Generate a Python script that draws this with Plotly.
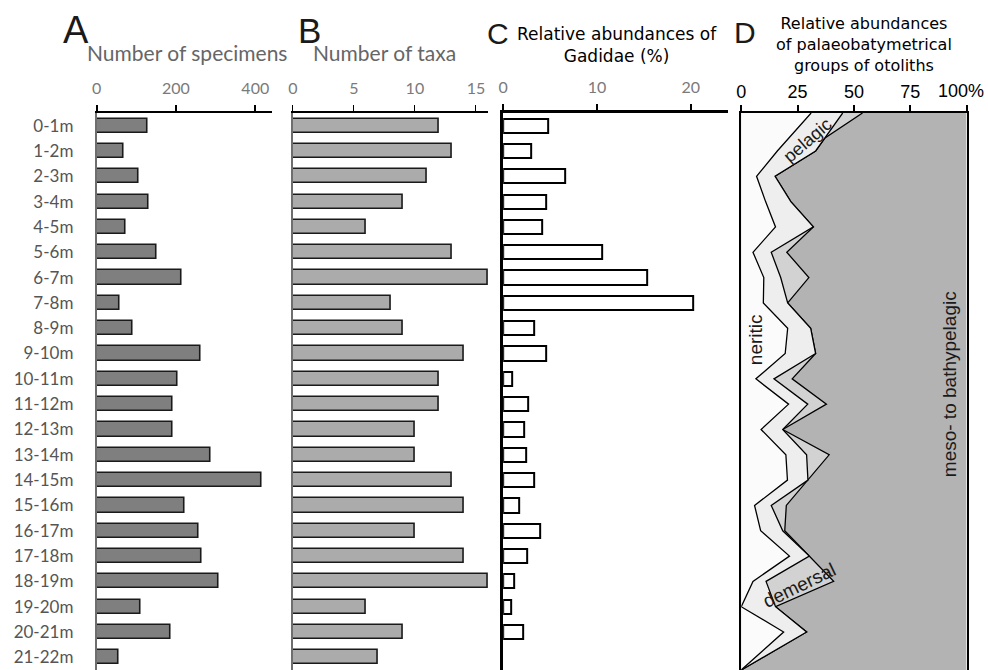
import plotly.graph_objects as go

# ---------------- data ----------------
depth_labels = ["0-1m", "1-2m", "2-3m", "3-4m", "4-5m", "5-6m", "6-7m", "7-8m", "8-9m",
                "9-10m", "10-11m", "11-12m", "12-13m", "13-14m", "14-15m", "15-16m",
                "16-17m", "17-18m", "18-19m", "19-20m", "20-21m", "21-22m"]
specimens = [129, 68, 106, 132, 74, 151, 215, 59, 90, 262, 204, 192, 191, 286, 417,
             221, 256, 265, 308, 112, 187, 55]
taxa = [12, 13, 11, 9, 6, 13, 16, 8, 9, 14, 12, 12, 10, 10, 13, 14, 10, 14, 16, 6, 9, 7]
gadidae_pct = [4.8, 3.0, 6.6, 4.6, 4.2, 10.6, 15.4, 20.3, 3.3, 4.6, 1.0, 2.7, 2.2, 2.5,
               3.3, 1.7, 3.9, 2.6, 1.2, 0.9, 2.1, 0.0]

# panel D: cumulative boundaries (%) along depth (m)
d_depth = [0, 1, 1.5, 2.5, 3.5, 4.5, 5.5, 6.5, 7.5, 8.5, 9.5, 10.5, 11.5, 12.5, 13.5,
           14.5, 15.5, 16.5, 17.5, 18.5, 19.5, 20.5, 22]
cum_neritic = [31, 21, 16, 6.8, 10.8, 15.2, 5.2, 10, 9.8, 20.6, 19.5, 6.5, 21, 8.8, 19.8,
               20.5, 5.9, 8.6, 21.4, 5.2, 0, 18.8, 0]
cum_pelagic = [45, 37, 33, 15, 22, 32, 13.3, 17.5, 20.6, 30.8, 33, 14.5, 29.5, 18.4, 29,
               29.6, 13.3, 18.4, 30.2, 11, 15.2, 29, 0]
cum_demersal = [53.8, 37, 33, 15, 22, 32, 20.2, 30, 20.6, 30.8, 33, 22.6, 37.8, 18.4, 39,
                29.6, 20, 19.3, 30.2, 41, 15.2, 29, 0]
cum_total = [100] * len(d_depth)

d_ticks = [0, 25, 50, 75, 100]
d_ticktext = ["0", "25", "50", "75", ""]

W, H = 988, 670


def px(x):
    return x / W


def py(y):
    return 1 - y / H


TOP = 113
YDOM = [0, py(TOP)]
GRAY_FONT = "Lato"
ARIAL = "Liberation Sans"
WIDE = "DejaVu Sans"

fig = go.Figure()

# ---------------- bars ----------------
fig.add_trace(go.Bar(x=specimens, y=depth_labels, orientation="h", width=0.56,
                     marker=dict(color="#7f7f7f", line=dict(color="#1a1a1a", width=1.6)),
                     xaxis="x", yaxis="y", showlegend=False))
fig.add_trace(go.Bar(x=taxa, y=depth_labels, orientation="h", width=0.56,
                     marker=dict(color="#ababab", line=dict(color="#1a1a1a", width=1.6)),
                     xaxis="x2", yaxis="y2", showlegend=False))
fig.add_trace(go.Bar(x=gadidae_pct, y=depth_labels, orientation="h", width=0.56,
                     marker=dict(color="white",
                                 line=dict(color="black",
                                           width=[2 if v > 0 else 0 for v in gadidae_pct])),
                     xaxis="x3", yaxis="y3", showlegend=False))

# ---------------- panel D areas ----------------
area_specs = [
    (cum_total, "#b3b3b3", 0),
    (cum_demersal, "#d2d2d2", 1.3),
    (cum_pelagic, "#eeeeee", 1.3),
    (cum_neritic, "#fbfbfb", 1.3),
]
for vals, col, lw in area_specs:
    fig.add_trace(go.Scatter(x=vals, y=d_depth, mode="lines", fill="tozerox",
                             fillcolor=col,
                             line=dict(color="black" if lw else col, width=lw if lw else 0.1),
                             xaxis="x4", yaxis="y4", showlegend=False, hoverinfo="skip"))

# ---------------- axes ----------------
common_x = dict(side="top", showline=True, linecolor="black", ticks="outside", ticklen=6,
                tickcolor="black", showgrid=False, zeroline=False, fixedrange=True,
                tickfont=dict(family=GRAY_FONT, size=16, color="#7a7a7a"),
                ticklabelstandoff=5)
cat_y = dict(domain=YDOM, range=[21.5, -0.5], showgrid=False, zeroline=False,
             showline=True, type="category")

fig.update_layout(
    width=W, height=H, margin=dict(l=0, r=0, t=0, b=0),
    paper_bgcolor="white", plot_bgcolor="rgba(0,0,0,0)", bargap=0,
    xaxis=dict(domain=[px(92), px(268.7)], range=[0, 443], tickvals=[0, 200, 400],
               linewidth=2, tickwidth=1.5, anchor="y", **common_x),
    xaxis2=dict(domain=[px(289.3), px(485.6)], range=[0, 16], tickvals=[0, 5, 10, 15],
                linewidth=1.5, tickwidth=1.2, anchor="y2", **common_x),
    xaxis3=dict(domain=[px(500.7), px(727)], range=[0, 24], tickvals=[0, 10, 20],
                linewidth=2.5, tickwidth=2, anchor="y3", **common_x),
    xaxis4=dict(domain=[px(740), px(966.5)], range=[0, 100], side="top", anchor="y4",
                tickvals=d_ticks, ticktext=d_ticktext,
                showline=True, linecolor="black", linewidth=1.5, ticks="outside",
                ticklen=6, tickwidth=1.5, tickcolor="black", showgrid=False,
                zeroline=False, ticklabelstandoff=0,
                tickfont=dict(family=ARIAL, size=18, color="black")),
    yaxis=dict(anchor="x", linecolor="#6e6e6e", linewidth=1.5, ticks="outside",
               ticklen=18, tickcolor="rgba(0,0,0,0)",
               tickfont=dict(family=GRAY_FONT, size=17, color="#555555"), **cat_y),
    yaxis2=dict(anchor="x2", linecolor="#6e6e6e", linewidth=1.5, showticklabels=False,
                **cat_y),
    yaxis3=dict(anchor="x3", linecolor="black", linewidth=2.5, showticklabels=False,
                **cat_y),
    yaxis4=dict(anchor="x4", domain=YDOM, range=[22, 0], showgrid=False, zeroline=False,
                showline=True, mirror=True, linecolor="black", linewidth=1.5,
                showticklabels=False),
)

# ---------------- annotations ----------------
ann = []


def add_text(text, x, y, size, family, color="black", angle=0, **kw):
    ann.append(dict(text=text, x=px(x), y=py(y), xref="paper", yref="paper",
                    xanchor="center", yanchor="middle", showarrow=False,
                    textangle=angle, font=dict(family=family, size=size, color=color),
                    **kw))


add_text("A", 71, 30, 38, ARIAL, "#1a1a1a")
add_text("B", 306, 30, 35, ARIAL, "#1a1a1a")
add_text("C", 496, 33, 30, ARIAL, "#1a1a1a")
add_text("D", 744, 32, 30, ARIAL, "#1a1a1a")
add_text("Number of specimens", 183, 53, 21, GRAY_FONT, "#666666")
add_text("Number of taxa", 381, 53, 21, GRAY_FONT, "#666666")
add_text("Relative abundances of<br>Gadidae (%)", 615, 45, 17, WIDE)
add_text("Relative abundances<br>of palaeobatymetrical<br>groups of otoliths", 863, 45, 16, WIDE)
add_text("100%", 960.5, 91, 18, ARIAL)
add_text("pelagic", 807, 140, 18, ARIAL, "#1a1a1a", angle=-41)
add_text("neritic", 754, 340, 19, ARIAL, "#1a1a1a", angle=-90)
add_text("meso- to bathypelagic", 949, 384, 19, ARIAL, "#1a1a1a", angle=-90)
add_text("demersal", 798, 585, 19, ARIAL, "#1a1a1a", angle=-26)

fig.update_layout(annotations=ann)

fig.write_html("out.html")
